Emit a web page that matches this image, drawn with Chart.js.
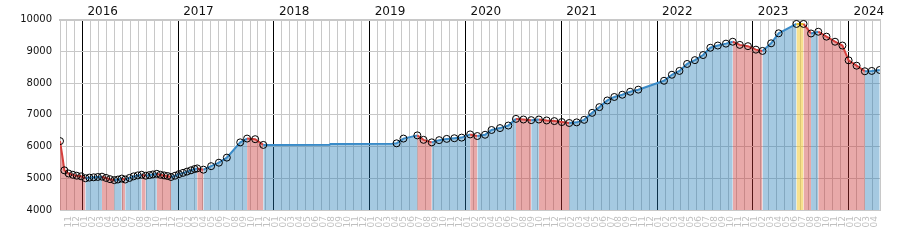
<!DOCTYPE html>
<html>
<head>
<meta charset="utf-8">
<script src="https://cdn.jsdelivr.net/npm/chart.js@4.4.1/dist/chart.umd.min.js"></script>
<style>
  body { margin: 0; background: #fff; }
  #wrap { width: 900px; height: 250px; }
</style>
</head>
<body>
<div id="wrap"><canvas id="priceChart" width="900" height="250"></canvas></div>
<script>
// price history
const priceDates = [
  '2015-10-07', '2015-10-16', '2015-10-24', '2015-11-09', '2015-11-25', '2015-12-10', '2015-12-27',
  '2016-01-13', '2016-01-28', '2016-02-13', '2016-02-28', '2016-03-15', '2016-03-31', '2016-04-15',
  '2016-05-01', '2016-05-15', '2016-05-30', '2016-06-12', '2016-06-28', '2016-07-14', '2016-07-30',
  '2016-08-14', '2016-08-30', '2016-09-13', '2016-09-26', '2016-10-11', '2016-10-25', '2016-11-08',
  '2016-11-21', '2016-12-04', '2016-12-20',
  '2017-01-04', '2017-01-20', '2017-02-04', '2017-02-18', '2017-03-03', '2017-03-13', '2017-04-06',
  '2017-05-05', '2017-06-04', '2017-07-04', '2017-08-25', '2017-09-20', '2017-10-21', '2017-11-21',
  '2018-07-31', '2018-08-04',
  '2019-03-27', '2019-04-12', '2019-05-08', '2019-06-30', '2019-07-24', '2019-08-25', '2019-09-22',
  '2019-10-21', '2019-11-19', '2019-12-17',
  '2020-01-19', '2020-02-15', '2020-03-15', '2020-04-09', '2020-05-11', '2020-06-12', '2020-07-11',
  '2020-08-09', '2020-09-08', '2020-10-07', '2020-11-06', '2020-12-05',
  '2021-01-03', '2021-02-01', '2021-02-27', '2021-03-28', '2021-04-27', '2021-05-25', '2021-06-24',
  '2021-07-21', '2021-08-21', '2021-09-20', '2021-10-21',
  '2022-01-28', '2022-02-25', '2022-03-26', '2022-04-24', '2022-05-24', '2022-06-24', '2022-07-22',
  '2022-08-20', '2022-09-20', '2022-10-16', '2022-11-12', '2022-12-13',
  '2023-01-13', '2023-02-07', '2023-03-10', '2023-04-08', '2023-06-15', '2023-07-12', '2023-08-10',
  '2023-09-07', '2023-10-08', '2023-11-10', '2023-12-08',
  '2024-01-01', '2024-02-01', '2024-03-02', '2024-03-29', '2024-04-28'
]
const prices = [
  6170, 5700, 5250, 5150, 5110, 5080, 5060,
  5000, 5020, 5030, 5040, 5050, 5010, 4970,
  4940, 4960, 4990, 4960, 5010, 5060, 5090,
  5110, 5080, 5100, 5120, 5140, 5110, 5090,
  5070, 5040, 5080,
  5130, 5170, 5210, 5250, 5290, 5310, 5270,
  5380, 5490, 5650, 6130, 6250, 6230, 6050,
  6055, 6080,
  6085, 6100, 6250, 6350, 6210, 6130, 6200,
  6240, 6260, 6280,
  6380, 6330, 6370, 6520, 6580, 6660, 6870,
  6850, 6830, 6850, 6820, 6800,
  6770, 6740, 6760, 6840, 7060, 7240, 7450,
  7560, 7630, 7725, 7790,
  8070, 8260, 8380, 8600, 8720, 8880, 9110,
  9180, 9240, 9300, 9200, 9160,
  9050, 9010, 9250, 9565, 9860, 9860, 9560,
  9615, 9460, 9300, 9180,
  8715, 8545, 8370, 8380, 8410
]
// 1 = drawn with a circle
const marked = [
  1, 0, 1, 1, 1, 1, 1,
  1, 1, 1, 1, 1, 1, 1,
  1, 1, 1, 1, 1, 1, 1,
  1, 1, 1, 1, 1, 1, 1,
  1, 1, 1,
  1, 1, 1, 1, 1, 1, 1,
  1, 1, 1, 1, 1, 1, 1,
  0, 0,
  0, 1, 1, 1, 1, 1, 1,
  1, 1, 1,
  1, 1, 1, 1, 1, 1, 1,
  1, 1, 1, 1, 1,
  1, 1, 1, 1, 1, 1, 1,
  1, 1, 1, 1,
  1, 1, 1, 1, 1, 1, 1,
  1, 1, 1, 1, 1,
  1, 1, 1, 1, 1, 1, 1,
  1, 1, 1, 1,
  1, 1, 1, 1, 1
]
const yearLabels = ['2016', '2017', '2018', '2019', '2020', '2021', '2022', '2023', '2024']
const monthLabels = ['01', '02', '03', '04', '05', '06', '07', '08', '09', '10', '11', '12']
const yTicks = [4000, 5000, 6000, 7000, 8000, 9000, 10000]

// months counted from Jan 2015
const toMonth = (s) => {
  const [y, m, d] = s.split('-').map(Number)
  const days = new Date(y, m, 0).getDate()
  return (y - 2015) * 12 + (m - 1) + (d - 1) / days
}
const xMin = toMonth('2015-10-07')
const xMax = toMonth('2024-04-29')
const firstMonth = Math.ceil(xMin)
const monthTicks = []
for (let v = firstMonth; v < xMax; v++) monthTicks.push(v)
const yearTicks = yearLabels.map((y) => (Number(y) - 2015) * 12 + 2.54)

const colors = {
  upLine: '#3a8bc8',
  downLine: '#d6403d',
  flatLine: '#e8c020',
  upFill: 'rgba(31, 120, 180, 0.4)',
  downFill: 'rgba(200, 50, 50, 0.42)',
  flatFill: 'rgba(240, 195, 30, 0.5)',
  grid: '#c8c8c8'
}
const trend = (ctx, up, down, flat) => {
  const a = ctx.p0.parsed.y
  const b = ctx.p1.parsed.y
  return b > a ? up : (b < a ? down : flat)
}

const points = priceDates.map((d, i) => ({ x: toMonth(d), y: prices[i] }))

new Chart(document.getElementById('priceChart'), {
  type: 'line',
  data: {
    datasets: [{
      data: points,
      borderWidth: 2,
      borderColor: colors.upLine,
      backgroundColor: colors.upFill,
      fill: 'start',
      tension: 0,
      pointRadius: (ctx) => (marked[ctx.dataIndex] ? 3.5 : 0),
      pointHoverRadius: 0,
      pointBorderColor: '#000',
      pointBorderWidth: 1,
      pointBackgroundColor: 'rgba(255, 255, 255, 0)',
      segment: {
        borderColor: (ctx) => trend(ctx, colors.upLine, colors.downLine, colors.flatLine),
        backgroundColor: (ctx) => trend(ctx, colors.upFill, colors.downFill, colors.flatFill)
      }
    }]
  },
  options: {
    responsive: false,
    animation: false,
    devicePixelRatio: 1,
    layout: { padding: { right: 20 } },
    plugins: { legend: { display: false }, tooltip: { enabled: false } },
    scales: {
      x: {
        type: 'linear',
        position: 'bottom',
        min: xMin,
        max: xMax,
        afterBuildTicks: (axis) => { axis.ticks = monthTicks.map((v) => ({ value: v })) },
        afterFit: (axis) => { axis.height = 40 },
        ticks: {
          autoSkip: false,
          minRotation: 90,
          maxRotation: 90,
          padding: 6,
          labelOffset: 2,
          color: '#c0c0c0',
          font: { family: 'DejaVu Sans', size: 9 },
          callback: (v) => monthLabels[((v % 12) + 12) % 12]
        },
        grid: {
          drawTicks: false,
          color: (ctx) => (ctx.tick && ctx.tick.value % 12 === 0 ? '#000' : colors.grid)
        },
        border: { color: colors.grid }
      },
      x2: {
        type: 'linear',
        position: 'top',
        min: xMin,
        max: xMax,
        afterBuildTicks: (axis) => { axis.ticks = yearTicks.map((v) => ({ value: v })) },
        afterFit: (axis) => { axis.height = 19.5 },
        ticks: {
          autoSkip: false,
          maxRotation: 0,
          padding: 0,
          color: '#111',
          font: { family: 'DejaVu Sans', size: 12 },
          callback: (v, i) => yearLabels[i]
        },
        grid: { display: false, drawTicks: false },
        border: { color: colors.grid, width: 2 }
      },
      y: {
        min: 4000,
        max: 10000,
        afterBuildTicks: (axis) => { axis.ticks = yTicks.map((v) => ({ value: v })) },
        afterFit: (axis) => { axis.width = 60 },
        ticks: {
          padding: 8,
          color: '#111',
          font: { family: 'DejaVu Sans', size: 10 },
          callback: (v) => String(v)
        },
        grid: { drawTicks: false, color: colors.grid },
        border: { color: colors.grid }
      },
      y2: {
        position: 'right',
        min: 4000,
        max: 10000,
        afterFit: (axis) => { axis.width = 0 },
        ticks: { display: false },
        grid: { display: false, drawTicks: false },
        border: { color: colors.grid }
      }
    }
  }
})
</script>
</body>
</html>
